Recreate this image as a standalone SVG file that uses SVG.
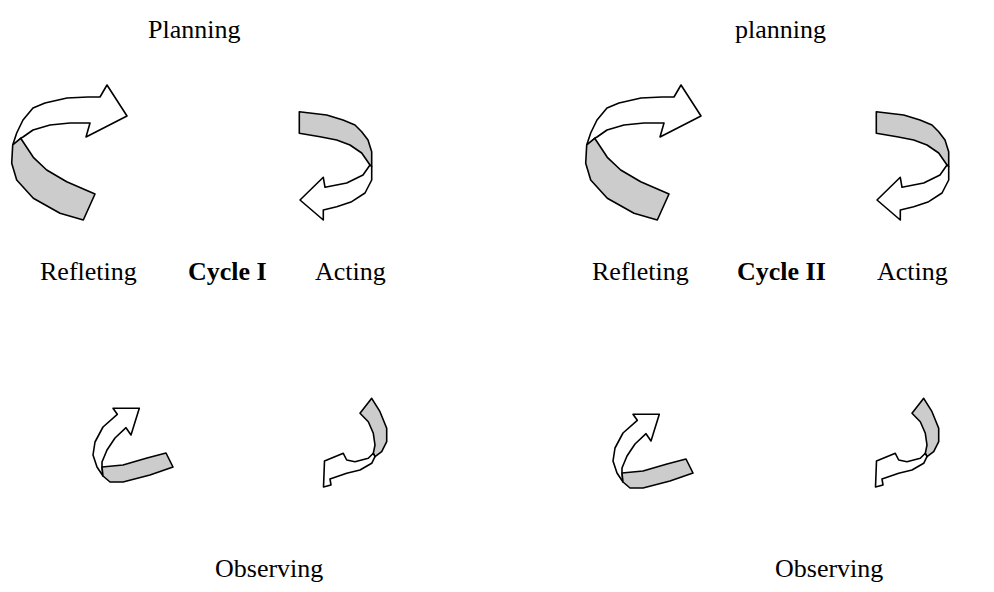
<svg xmlns="http://www.w3.org/2000/svg" width="994" height="592" viewBox="0 0 994 592">
<style>
.w{fill:#ffffff;stroke:#000;stroke-width:1.6;stroke-linejoin:round}
.g{fill:#cccccc;stroke:#000;stroke-width:1.6;stroke-linejoin:round}
.t{font-family:"Liberation Serif","Times New Roman",serif;font-size:26px;fill:#000}
.b{font-weight:bold}
</style>
<defs>
<g id="bigArrow">
<path class="w" d="M12.7,145 L16.7,133 L23,120 L33,108 L45,103 L67,98 L88,97 L100,97 L107,85 L127,116 L86,137 L90,123 L70,123 L50,125 L33,130 L23,137 L20.7,138.3 Z"/>
<path class="g" d="M20.7,138.3 L33.3,157.3 L46.7,170 L66.7,181.7 L95,194 L83.3,220 L60,213.3 L33.3,198.3 L16.7,180 L11.7,163.3 L12.7,145 Z"/>
</g>
<g id="trArrow">
<path class="g" d="M299.3,111.7 L326.7,115 L343,120 L355,125 L361.7,131.7 L368,140 L371.7,151.7 L371.7,166.7 L370,165 L361.7,153 L350,145 L336.7,140 L320,136.7 L299.3,133.3 Z"/>
<path class="w" d="M370,165 L363,175 L346.7,183 L325,187.3 L323.3,177.3 L300,200 L323.3,220 L323.3,210 L336.7,206.7 L351.7,201.7 L365,193 L371.7,180 L371.7,166.7 Z"/>
</g>
<g id="blArrow">
<path class="w" d="M102,467 L102,462 L107,450 L115,438 L126,427.7 L131,435 L139.3,408.3 L113,408.3 L117.3,414.3 L103,427 L95,442 L93,455 L97,467 L103,476 Z"/>
<path class="g" d="M102,467 L123,465 L147,458 L166,453 L173,467 L150,475 L123,482 L110,482 L103,476 Z"/>
</g>
<g id="brArrow">
<path class="g" d="M360,413.3 L371.7,398.3 L380,411.7 L386.7,428.3 L386.7,441.7 L381.7,451.7 L375,456.7 L373.3,453.3 L375,445 L373.3,433.3 L368.3,421.7 Z"/>
<path class="w" d="M373.3,453.3 L368.3,458.3 L355,461.7 L346.7,460 L343.3,453.3 L324.5,461 L323.5,487 L331,485 L330,479 L346.7,473.3 L360,470 L371.7,463.3 L375,456.7 Z"/>
</g>
</defs>
<g id="cycle1-plan-arrow"><use href="#bigArrow"/></g>
<g id="cycle1-act-arrow"><use href="#trArrow"/></g>
<g id="cycle1-reflect-arrow"><use href="#blArrow"/></g>
<g id="cycle1-observe-arrow"><use href="#brArrow"/></g>
<g id="cycle2-plan-arrow"><use href="#bigArrow" transform="translate(574,0)"/></g>
<g id="cycle2-act-arrow"><use href="#trArrow" transform="translate(577,0)"/></g>
<g id="cycle2-reflect-arrow"><use href="#blArrow" transform="translate(520,6)"/></g>
<g id="cycle2-observe-arrow"><use href="#brArrow" transform="translate(552,0)"/></g>
<g id="labels">
<text class="t" x="148" y="38">Planning</text>
<text class="t" x="735" y="38">planning</text>
<text class="t" x="40" y="280">Refleting</text>
<text class="t b" x="188" y="280">Cycle I</text>
<text class="t" x="315" y="280">Acting</text>
<text class="t" x="592" y="280">Refleting</text>
<text class="t b" x="737" y="280">Cycle II</text>
<text class="t" x="877" y="280">Acting</text>
<text class="t" x="215" y="577">Observing</text>
<text class="t" x="775" y="577">Observing</text>
</g>
</svg>
